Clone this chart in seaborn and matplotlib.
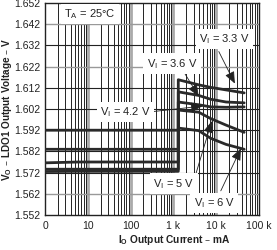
import numpy as np
import pandas as pd
import matplotlib
matplotlib.use("Agg")
import matplotlib.pyplot as plt
import seaborn as sns

# ---- data ----
vin_labels = ["3.3", "3.6", "4.2", "5", "6"]
current_ma = [1, 6, 1300, 1300, 3900, 7400, 17000, 45000]
v_33 = [1.5920, 1.5920, 1.5920, 1.6158, 1.6134, 1.6122, 1.6110, 1.6096]
v_36 = [1.5830, 1.5830, 1.5830, 1.6101, 1.6084, 1.6066, 1.6053, 1.6049]
v_42 = [1.5766, 1.5770, 1.5770, 1.6053, 1.6040, 1.6030, 1.6028, 1.6030]
v_50 = [1.5736, 1.5736, 1.5736, 1.6015, 1.6005, 1.5975, 1.5944, 1.5910]
v_60 = [1.5725, 1.5726, 1.5726, 1.5930, 1.5918, 1.5882, 1.5853, 1.5830]

x_ticks = [1, 10, 100, 1000, 10000, 100000]
x_ticklabels = ["0", "10", "100", "1 k", "10 k", "100 k"]
y_ticks = [1.552, 1.562, 1.572, 1.582, 1.592, 1.602, 1.612, 1.622, 1.632, 1.642, 1.652]

series = [v_33, v_36, v_42, v_50, v_60]
rows = []
for lab, vals in zip(vin_labels, series):
    for i, (x, y) in enumerate(zip(current_ma, vals)):
        rows.append({"I": x, "V": y, "Vin": lab, "order": i})
df = pd.DataFrame(rows)

sns.set_theme(style="white")
plt.rcParams["font.family"] = ["Liberation Sans", "DejaVu Sans"]

fig = plt.figure(figsize=(2.77, 2.5), dpi=100)
ax = fig.add_axes([0.1625, 0.14, 0.7725, 0.848])

ax.set_xscale("log")
ax.set_xlim(1, 100000)
ax.set_ylim(1.552, 1.652)

# grid
for dec in [1, 10, 100, 1000, 10000]:
    for m in range(2, 10):
        ax.axvline(dec * m, color="#222222", lw=0.7, zorder=1)
for dec in [10, 100, 1000, 10000]:
    ax.axvline(dec, color="#aaaaaa", lw=2.0, zorder=1)
gray_h = {1.642, 1.622, 1.562}
for yv in y_ticks[1:-1]:
    c = "#999999" if round(yv, 3) in gray_h else "#222222"
    ax.axhline(yv, color=c, lw=1.0 if c == "#999999" else 0.8, zorder=1)

sns.lineplot(data=df, x="I", y="V", hue="Vin", units="Vin", estimator=None,
             sort=False, palette=["#2a2a2a"] * 5, lw=2.0, legend=False, ax=ax,
             zorder=3)

ax.set_xticks(x_ticks)
ax.set_xticklabels(x_ticklabels)
ax.set_yticks(y_ticks)
ax.set_yticklabels([f"{v:.3f}" for v in y_ticks])
ax.minorticks_off()
ax.tick_params(axis="y", length=0, labelsize=7.5, colors="#222222", pad=3.5)
ax.tick_params(axis="x", length=0, labelsize=7.5, colors="#222222", pad=4)
for s in ax.spines.values():
    s.set_color("#222222")
    s.set_linewidth(1.0)

ax.set_xlabel("I$_\\mathregular{O}$ Output Current \u2013 mA", fontsize=7.3,
              fontweight="bold", color="#222222")
ax.set_ylabel("V$_\\mathregular{O}$ \u2013 LDO1 Output Voltage \u2013 V", fontsize=7.2,
              fontweight="bold", color="#222222")
ax.yaxis.set_label_coords(-0.176, 0.5)
ax.xaxis.set_label_coords(0.607, -0.118)
ax.xaxis.label.set_va("center")
ax.yaxis.label.set_va("center")

bbox = dict(boxstyle="square,pad=0.3", fc="white", ec="none")
tk = dict(fontsize=8, color="#222222", ha="center", va="center", bbox=bbox, zorder=5)
ax.text(11.4, 1.6468, "T$_\\mathregular{A}$ = 25°C", **tk)

arrowp = dict(arrowstyle="-|>,head_length=0.6,head_width=0.25", color="#222222",
              lw=0.6, shrinkA=0, shrinkB=0)
ann = [
    ("V$_\\mathregular{I}$ = 3.3 V", (15500, 1.6349), (11500, 1.6291), (27300, 1.6140)),
    ("V$_\\mathregular{I}$ = 3.6 V", (933, 1.6234), (1740, 1.6196), (3900, 1.6080)),
    ("V$_\\mathregular{I}$ = 4.2 V", (75, 1.6006), (165, 1.6001), (4840, 1.6034)),
    ("V$_\\mathregular{I}$ = 5 V", (1040, 1.5668), (3000, 1.5682), (7880, 1.5963)),
    ("V$_\\mathregular{I}$ = 6 V", (9020, 1.5577), (12800, 1.5634), (37800, 1.5834)),
]
for txt, pos, start, tip in ann:
    ax.annotate("", xy=tip, xytext=start, arrowprops=arrowp, zorder=4)
    ax.text(pos[0], pos[1], txt, **tk)

fig.savefig("out.png", dpi=100)
